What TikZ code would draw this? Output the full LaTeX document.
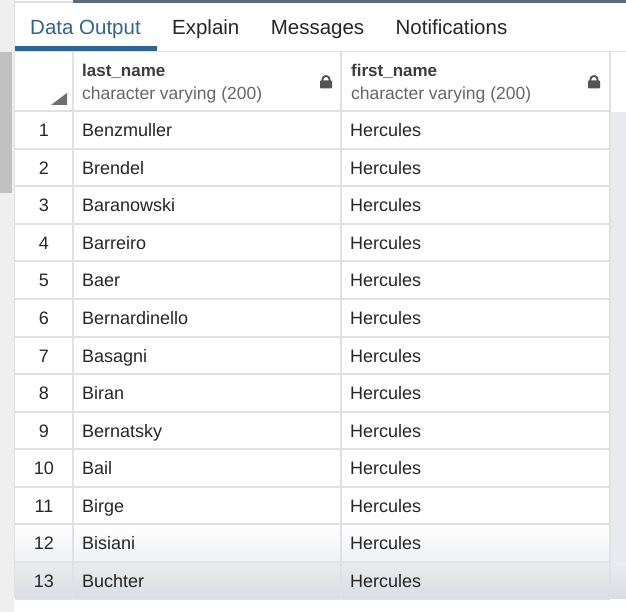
\documentclass[tikz,border=0pt]{standalone}
\usepackage{fontspec}
\setmainfont{Liberation Sans}
\usetikzlibrary{positioning}
\definecolor{tabblue}{HTML}{2F6594}
\definecolor{topbar}{HTML}{5B6B7E}
\definecolor{gridline}{HTML}{DFE1E5}
\definecolor{sidegrey}{HTML}{EFEFEF}
\definecolor{scrollgrey}{HTML}{C1C1C1}
\definecolor{stripgrey}{HTML}{E8EAF0}
\definecolor{textdark}{HTML}{262626}
\definecolor{subgrey}{HTML}{666666}
\definecolor{iconGrey}{HTML}{555555}
\definecolor{shadeA}{HTML}{F0F1F4}
\definecolor{shadeB}{HTML}{EAECEF}
\definecolor{shadeC}{HTML}{DADDE3}
\tikzstyle{tab} = [anchor=base west, inner sep=0, font=\fontsize{20.5}{24}\selectfont, text=textdark]
\tikzstyle{cell} = [anchor=base west, inner sep=0, font=\fontsize{18}{21}\selectfont, text=textdark]
\tikzstyle{numCell} = [anchor=base, inner sep=0, font=\fontsize{18}{21}\selectfont, text=textdark]
\tikzstyle{headName} = [anchor=base west, inner sep=0, font=\bfseries\fontsize{17}{20}\selectfont, text=textdark!90]
\tikzstyle{headType} = [anchor=base west, inner sep=0, font=\fontsize{17.5}{20}\selectfont, text=subgrey]
\tikzstyle{gridLine} = [gridline, line width=2pt]
\tikzstyle{lock} = [iconGrey, line width=1.9pt]

\begin{document}
\begin{tikzpicture}[x=1pt, y=-1pt]
    \useasboundingbox (0,0) rectangle (626,612);
    % frame
    \fill[white] (0,0) rectangle (626,612);
    \fill[sidegrey] (0,0) rectangle (14,612);
    \fill[scrollgrey] (0,52) rectangle (12,193);
    \draw[gridline, line width=1pt] (14.5,0) -- (14.5,598);
    \fill[topbar] (73,0) rectangle (626,3.5);
    \fill[gridline] (15,1.5) rectangle (73,3.5);
    % tabs
    \draw[gridline, line width=1.5pt] (15,51.5) -- (626,51.5);
    \fill[tabblue] (15,46) rectangle (157,51);
    \node (tabData) [tab, text=tabblue] at (30,35) {Data Output};
    \node (tabExplain) [tab, base right=31pt of tabData] {Explain};
    \node (tabMessages) [tab, base right=31pt of tabExplain] {Messages};
    \node (tabNotes) [tab, base right=31pt of tabMessages] {Notifications};
    % body background
    \fill[stripgrey] (611,112) rectangle (626,598);
    \shade[top color=white, bottom color=shadeA] (15,524) rectangle (610,561);
    \shade[top color=shadeB, bottom color=shadeC] (15,561) rectangle (626,598);
    % grid
    \foreach \k in {0,...,13}
        \draw[gridLine] (15,111.5+\k*37.5) -- (610,111.5+\k*37.5);
    \foreach \x in {73,341,610}
        \draw[gridLine] (\x,52) -- (\x,598);
    % header
    \fill[iconGrey!85] (51,105) -- (67,105) -- (67,93) -- cycle;
    \node (headLast) [headName] at (82,77) {last\_name};
    \node (typeLast) [headType] at (82,100) {character varying (200)};
    \node (headFirst) [headName] at (351,77) {first\_name};
    \node (typeFirst) [headType] at (351,100) {character varying (200)};
    \foreach \lx in {320,588} {
        \fill[iconGrey, rounded corners=0.8pt] (\lx,80.5) rectangle (\lx+12,88.5);
        \draw[lock] (\lx+2.4,81) -- (\lx+2.4,79.6) arc (180:360:3.6) -- (\lx+9.6,81);
    }
    % rows
    \foreach \i/\ln in {1/Benzmuller, 2/Brendel, 3/Baranowski, 4/Barreiro, 5/Baer,
                        6/Bernardinello, 7/Basagni, 8/Biran, 9/Bernatsky, 10/Bail,
                        11/Birge, 12/Bisiani, 13/Buchter} {
        \pgfmathsetmacro{\yb}{137+(\i-1)*37.5}
        \node (num\i) [numCell] at (44,\yb) {\i};
        \node (last\i) [cell] at (82,\yb) {\ln};
        \node (first\i) [cell] at (350,\yb) {Hercules};
    }
\end{tikzpicture}
\end{document}
